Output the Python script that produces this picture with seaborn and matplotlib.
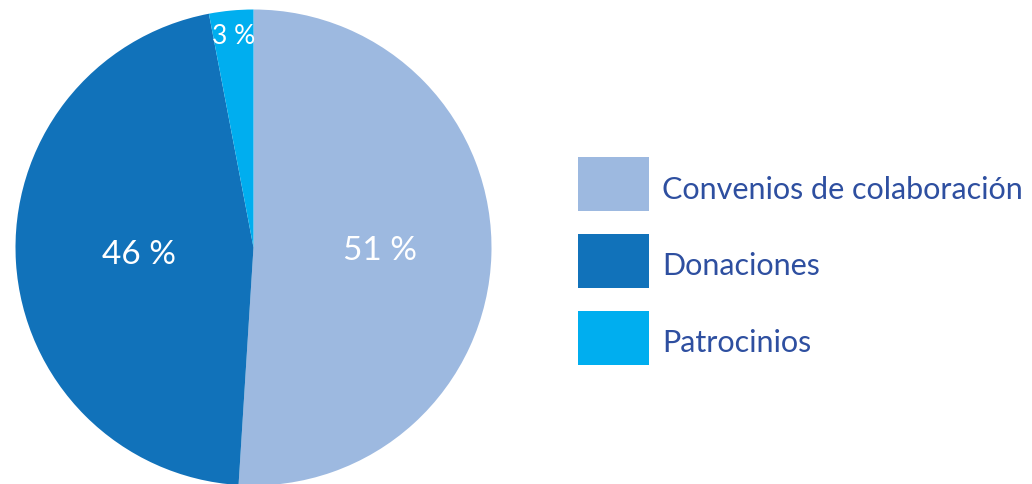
import numpy as np
import matplotlib
matplotlib.use("Agg")
import matplotlib.pyplot as plt
from matplotlib.patches import Rectangle
from matplotlib.legend_handler import HandlerPatch
import seaborn as sns

sns.set_theme(style="white")
plt.rcParams["font.family"] = ["Lato", "DejaVu Sans"]

# Funding sources (percent of total)
categories = ["Convenios de colaboración", "Donaciones", "Patrocinios"]
shares = [51, 46, 3]
colors = ["#9DB9E0", "#1172BA", "#00AEEF"]
label_text = ["51 %", "46 %", "3 %"]
label_radius = [0.53, 0.48, 0.89]
label_size = [24, 24, 19]

W, H = 1032, 484
fig = plt.figure(figsize=(W / 100, H / 100), dpi=100)

cx, cy, r = 253.5, 247.5, 238.0
ax = fig.add_axes([(cx - r) / W, (H - cy - r) / H, 2 * r / W, 2 * r / H])
wedges, _ = ax.pie(shares, colors=colors, startangle=90, counterclock=False,
                   radius=1.0, wedgeprops=dict(linewidth=0))
ax.set_xlim(-1, 1)
ax.set_ylim(-1, 1)
ax.set_aspect("equal")
ax.axis("off")

for w, txt, rad, fs in zip(wedges, label_text, label_radius, label_size):
    ang = np.deg2rad((w.theta1 + w.theta2) / 2)
    ax.text(rad * np.cos(ang), rad * np.sin(ang), txt, color="white",
            fontsize=fs, ha="center", va="center")


def square_swatch(legend, orig_handle, xdescent, ydescent, width, height, fontsize):
    # lift the swatch a little so the label sits near its vertical middle
    return Rectangle((-xdescent, -ydescent + 3.6), width, height)


fig.legend(wedges, categories, loc="upper left",
           bbox_to_anchor=(578 / W, 1 - 162 / H), frameon=False,
           prop=dict(family=["Lato", "DejaVu Sans"], size=22),
           labelcolor="#2E4FA0", borderpad=0, borderaxespad=0,
           handlelength=2.33, handleheight=2.36, handletextpad=0.42,
           labelspacing=0.735,
           handler_map={w: HandlerPatch(patch_func=square_swatch) for w in wedges})

fig.savefig("out.png", dpi=100, facecolor="white")
